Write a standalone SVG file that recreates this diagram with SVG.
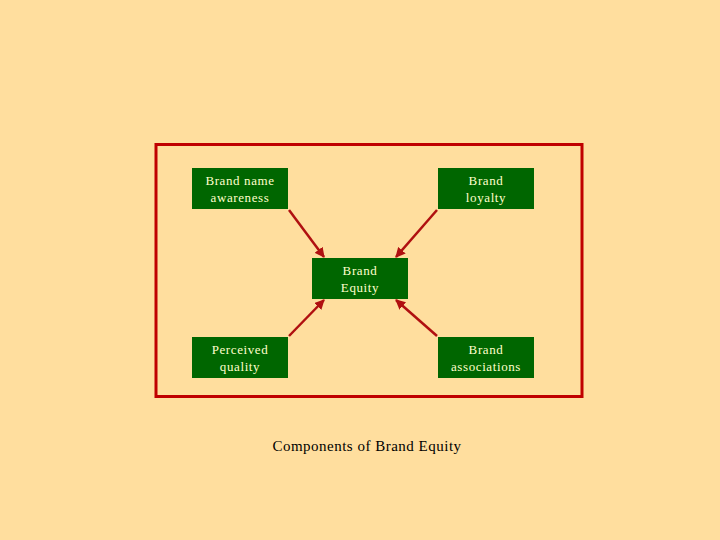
<svg xmlns="http://www.w3.org/2000/svg" width="720" height="540" viewBox="0 0 720 540">
<style>
.box{fill:#006600;}
.lbl{font-family:"Liberation Serif",serif;font-size:13px;letter-spacing:0.6px;fill:#ffffcc;text-anchor:middle;}
.conn{stroke:#b01010;stroke-width:2.5;fill:none;marker-end:url(#ah);}
.cap{font-family:"Liberation Serif",serif;font-size:15px;letter-spacing:0.5px;fill:#000;text-anchor:middle;}
</style>
<defs>
<marker id="ah" viewBox="0 0 10 10" refX="9" refY="5" markerWidth="4" markerHeight="4" orient="auto" markerUnits="strokeWidth">
<path d="M0,0 L10,5 L0,10 z" fill="#b01010"/>
</marker>
</defs>
<rect width="720" height="540" fill="#ffde9e"/>
<rect x="156" y="144.5" width="426" height="252" fill="none" stroke="#c00000" stroke-width="3"/>
<g id="awareness"><rect class="box" x="192" y="168" width="96" height="41"/><text class="lbl" x="240" y="185">Brand name</text><text class="lbl" x="240" y="202">awareness</text></g>
<g id="loyalty"><rect class="box" x="438" y="168" width="96" height="41"/><text class="lbl" x="486" y="185">Brand</text><text class="lbl" x="486" y="202">loyalty</text></g>
<g id="equity"><rect class="box" x="312" y="258" width="96" height="41"/><text class="lbl" x="360" y="275">Brand</text><text class="lbl" x="360" y="292">Equity</text></g>
<g id="quality"><rect class="box" x="192" y="337" width="96" height="41"/><text class="lbl" x="240" y="354">Perceived</text><text class="lbl" x="240" y="371">quality</text></g>
<g id="associations"><rect class="box" x="438" y="337" width="96" height="41"/><text class="lbl" x="486" y="354">Brand</text><text class="lbl" x="486" y="371">associations</text></g>
<g id="connectors">
<line class="conn" x1="289" y1="210" x2="324" y2="257"/>
<line class="conn" x1="437" y1="210" x2="396" y2="257"/>
<line class="conn" x1="289" y1="336" x2="324" y2="300"/>
<line class="conn" x1="437" y1="336" x2="396" y2="300"/>
</g>
<text class="cap" x="367" y="451">Components of Brand Equity</text>
</svg>
